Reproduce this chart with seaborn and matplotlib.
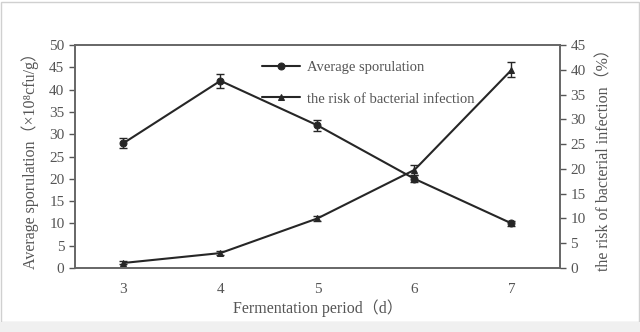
import numpy as np
import pandas as pd
import matplotlib
matplotlib.use("Agg")
import matplotlib.pyplot as plt
from matplotlib.patches import Rectangle
import seaborn as sns

# data
days = [3, 4, 5, 6, 7]
sporulation = [28, 42, 32, 20, 10]
sporulation_err = [1.1, 1.6, 1.2, 0.8, 0.5]
risk = [1, 3, 10, 19.8, 40]
risk_err = [0.3, 0.4, 0.5, 1.0, 1.5]

sns.set_style("white")
plt.rcParams['font.family'] = ['Liberation Serif', 'Noto Sans CJK SC', 'DejaVu Sans']
txt = "#555555"
ink = "#262626"

df = pd.DataFrame({"day": days, "sporulation": sporulation, "risk": risk})

fig = plt.figure(figsize=(6.4, 3.32), dpi=100)
ax = fig.add_axes([0.117, 0.193, 0.758, 0.671])
ax2 = ax.twinx()

sns.lineplot(data=df, x="day", y="sporulation", ax=ax, color=ink, lw=1.5,
             marker="o", markersize=5, markeredgecolor=ink,
             label="Average sporulation", legend=False)
ax.errorbar(days, sporulation, yerr=sporulation_err, fmt="none",
            ecolor=ink, elinewidth=1, capsize=3)

sns.lineplot(data=df, x="day", y="risk", ax=ax2, color=ink, lw=1.5,
             marker="^", markersize=5, markeredgecolor=ink,
             label="the risk of bacterial infection", legend=False)
ax2.errorbar(days, risk, yerr=risk_err, fmt="none",
             ecolor=ink, elinewidth=1, capsize=3)

ax.set_xlim(2.5, 7.5)
ax.set_ylim(0, 50)
ax2.set_ylim(0, 45)
ax.set_yticks(np.arange(0, 55, 5))
ax2.set_yticks(np.arange(0, 50, 5))

# category-style x axis: labels at centres, ticks at boundaries
ax.set_xticks(days)
ax.set_xticklabels([str(d) for d in days])
ax.set_xticks(np.arange(2.5, 8, 1), minor=True)
ax.tick_params(axis="x", which="major", length=0, pad=11, labelsize=11, labelcolor=txt)
ax.tick_params(axis="x", which="minor", length=4, width=1, color="#555555", direction="out")
ax.tick_params(axis="y", length=4, width=1, color="#555555", direction="out",
               labelsize=11, labelcolor=txt, left=True)
ax2.tick_params(axis="y", length=4, width=1, color="#555555", direction="out",
                labelsize=11, labelcolor=txt, right=True)

for a in (ax, ax2):
    for s in a.spines.values():
        s.set_color("#666666")
        s.set_linewidth(1.2)

ax.set_xlabel("Fermentation period（d）", fontsize=11.5, color=txt, labelpad=2)
ax.set_ylabel("Average sporulation（×10⁸cfu/g）", fontsize=11.5, color=txt, labelpad=7)
ax2.set_ylabel("the risk of bacterial infection（%）", fontsize=11.5, color=txt, labelpad=8)

h1, l1 = ax.get_legend_handles_labels()
h2, l2 = ax2.get_legend_handles_labels()
leg = ax2.legend(h1 + h2, l1 + l2, loc="upper left", bbox_to_anchor=(0.359, 0.988),
                 frameon=False, fontsize=10.5, handlelength=2.6, labelspacing=1.25,
                 handletextpad=0.5)
for t in leg.get_texts():
    t.set_color(txt)

# light frame around the picture like the screenshot
fig.patches.append(Rectangle((0.002, 0.03), 0.996, 0.965, transform=fig.transFigure,
                             fill=False, edgecolor="#d0d0d0", lw=1))
fig.patches.append(Rectangle((0, 0), 1, 0.03, transform=fig.transFigure,
                             color="#f0f0f0", lw=0))

fig.savefig("out.png", dpi=100)
